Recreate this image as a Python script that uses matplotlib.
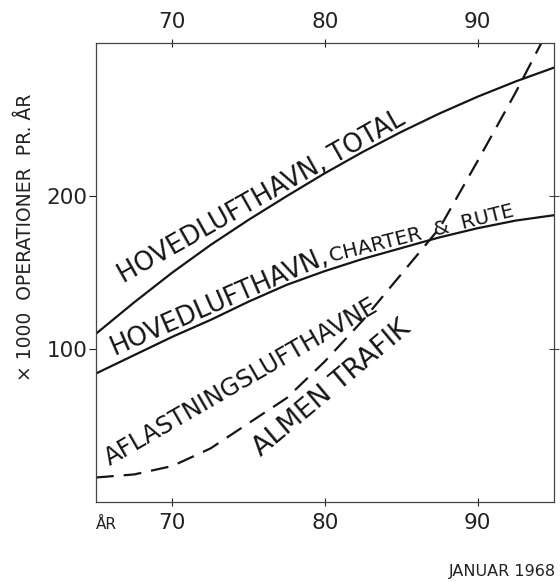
import matplotlib
matplotlib.use('Agg')
import matplotlib.pyplot as plt


# year (19xx) and thousands of operations per year
years = [65, 67.5, 70, 72.5, 75, 77.5, 80, 82.5, 85, 87.5, 90, 92.5, 95]
total = [110, 130.5, 150, 168, 184.5, 200, 215, 229, 242, 254, 265, 275, 284]
charter_rute = [84, 96, 108, 119, 131, 142, 151, 159, 166, 173, 179, 184, 187.5]
almen_trafik = [16, 18, 23.5, 35, 51.5, 68, 92, 119, 149, 179, 223, 268, 316]

xticks = [70, 80, 90]
yticks = [100, 200]

ink = '#151515'
plt.rcParams['font.family'] = ['DejaVu Sans']

fig = plt.figure(figsize=(5.6, 5.83), dpi=100)
ax = fig.add_axes([0.1714, 0.139, 0.8179, 0.787])

ax.plot(years, total, color=ink, lw=1.6)
ax.plot(years, charter_rute, color=ink, lw=1.6)
ax.plot(years, almen_trafik, color=ink, lw=1.6, dashes=(8, 4.5))

ax.set_xlim(65, 95)
ax.set_ylim(0, 300)

for s in ax.spines.values():
    s.set_color('#444444')
    s.set_linewidth(0.9)

ax.set_xticks(xticks)
ax.set_yticks(yticks)
ax.tick_params(axis='x', top=True, labeltop=True, direction='inout',
               length=6, width=0.8, pad=5, labelsize=15.5, colors='#222222')
ax.tick_params(axis='y', right=False, direction='out', length=5,
               width=0.8, pad=1, labelsize=15.5, colors='#222222')
sec = ax.secondary_yaxis('right')
sec.set_yticks(yticks)
sec.set_yticklabels([])
sec.tick_params(direction='inout', length=7, width=0.8, colors='#444444')
sec.spines['right'].set_visible(False)

# curve labels
txt = dict(color=ink, ha='left', va='baseline', rotation_mode='anchor')
ax.text(66.8, 143, 'HOVEDLUFTHAVN, TOTAL', rotation=29.5, fontsize=18.5, **txt)
ax.text(66.2, 96, 'HOVEDLUFTHAVN,', rotation=23.5, fontsize=18.5, **txt)
ax.text(80.4, 157, 'CHARTER  &  RUTE', rotation=14, fontsize=14.5, **txt)
ax.text(65.9, 23.5, 'AFLASTNINGSLUFTHAVNE', rotation=30, fontsize=17.5, **txt)
ax.text(75.8, 29.5, 'ALMEN TRAFIK', rotation=40, fontsize=19.5, **txt)

ax.text(0, -0.05, 'ÅR', transform=ax.transAxes, ha='left', va='center',
        fontsize=11, color='#222222')
fig.text(0.045, 0.593, '× 1000  OPERATIONER  PR. ÅR', rotation=90,
         ha='center', va='center', fontsize=13.5, color='#222222')
fig.text(0.993, 0.019, 'JANUAR 1968', ha='right', va='center',
         fontsize=11.5, color='#222222')

fig.savefig('out.png', dpi=100, facecolor='white')
